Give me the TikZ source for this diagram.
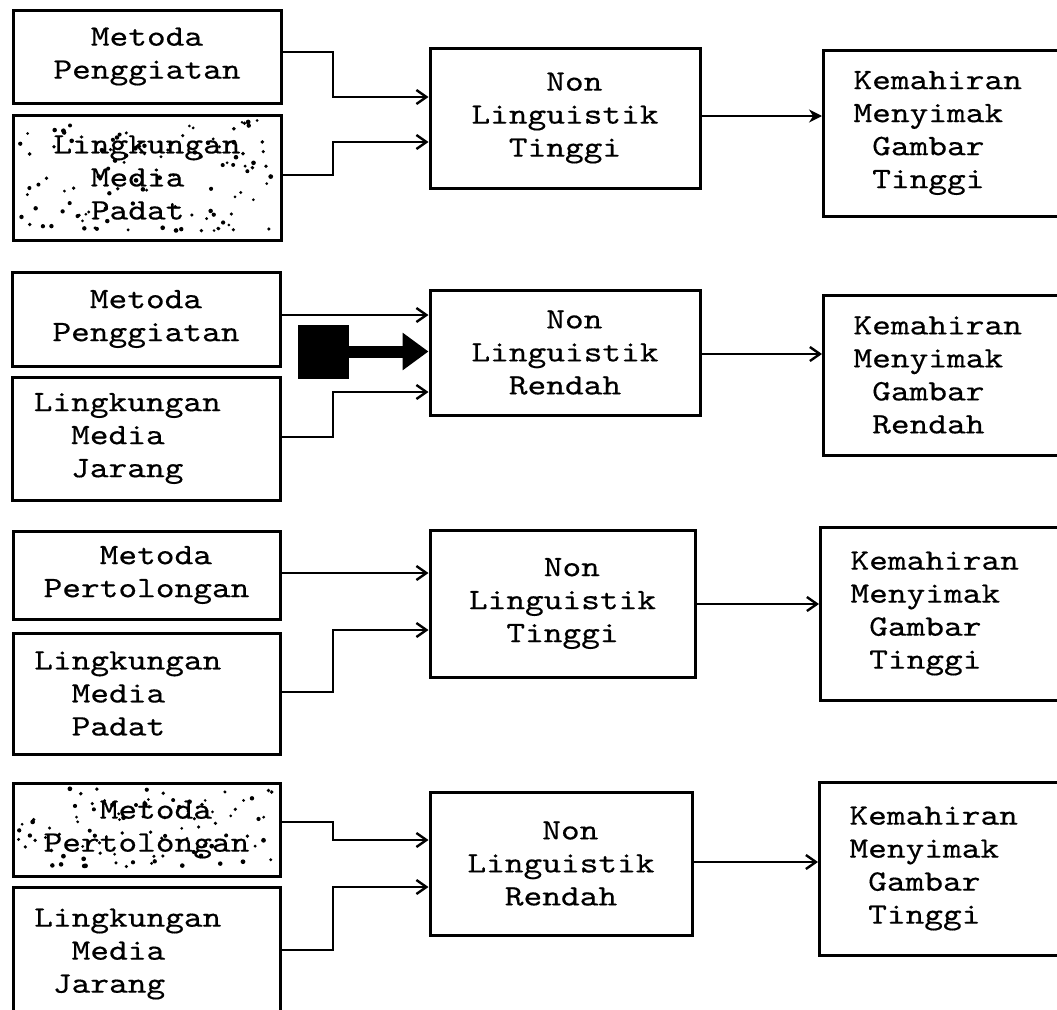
\documentclass[tikz,border=0pt]{standalone}
\usepackage{fontspec}
\newfontfamily\typer[FakeStretch=1.2,FakeBold=0.4]{lmmono10-regular.otf}
\usetikzlibrary{arrows.meta,backgrounds,calc}
% blank columns of typewriter width
\newcommand\tpad[1]{\leavevmode\hbox to #1\fontcharwd\font`x{}}

\begin{document}
\begin{tikzpicture}[x=1pt,y=-1pt]
\tikzset{
  box/.style={draw, line width=3pt, rectangle, inner sep=0pt, align=left,
              font=\typer\fontsize{29.7pt}{33pt}\selectfont},
  rbox/.style={box, anchor=west, text width=200pt, inner xsep=30pt},
  conn/.style={line width=2.4pt, -{Straight Barb[length=10pt,width=14pt]}},
  dot/.style={fill=black},
}
\path[use as bounding box] (0,0) rectangle (1057,1009);
\clip (0,0) rectangle (1057,1009);

% ---------- group 1 ----------
\node[box, minimum width=268pt, minimum height=93pt]  (A1) at (147,56.5)  {\tpad{2}Metoda\\Penggiatan};
\node[box, minimum width=268pt, minimum height=125pt] (B1) at (147,177.5) {Lingkungan\\\tpad{2}Media\\\tpad{2}Padat};
\node[box, minimum width=270pt, minimum height=140pt] (M1) at (565,118)   {\tpad{4}Non\\Linguistik\\\tpad{2}Tinggi};
\node[rbox, minimum height=166pt] (R1) at (822,133) {Kemahiran\\Menyimak\\\tpad{1}Gambar\\\tpad{1}Tinggi};

\draw[conn] (A1.east |- 0,52)  -| (333,97)  -- (M1.west |- 0,97);
\draw[conn] (B1.east |- 0,175) -| (333,142) -- (M1.west |- 0,142);
\draw[line width=2.4pt, -{Stealth[length=13pt,width=13pt]}] (M1.east |- 0,116) -- (R1.west |- 0,116);

% ---------- group 2 ----------
\node[box, minimum width=268pt, minimum height=94pt]  (A2) at (146,319)   {\tpad{2}Metoda\\Penggiatan};
\node[box, minimum width=268pt, minimum height=123pt] (B2) at (146,438.5) {Lingkungan\tpad{2}\\\tpad{2}Media\\\tpad{2}Jarang};
\node[box, minimum width=270pt, minimum height=125pt] (M2) at (565,352.5) {\tpad{4}Non\\Linguistik\\\tpad{2}Rendah};
\node[rbox, minimum height=160pt] (R2) at (822,375) {Kemahiran\\Menyimak\\\tpad{1}Gambar\\\tpad{1}Rendah};
\node[draw, fill=black, line width=1pt, minimum width=50pt, minimum height=53pt, inner sep=0pt] (blk) at (323,351.5) {};

\draw[conn] (A2.east |- 0,315) -- (M2.west |- 0,315);
\draw[line width=12pt, -{Triangle[length=26pt,width=36pt]}] (blk.east) -- (M2.west |- blk.east);
\draw[conn] (B2.east |- 0,437) -| (333,392) -- (M2.west |- 0,392);
\draw[conn] (M2.east |- 0,354) -- (R2.west |- 0,354);

% ---------- group 3 ----------
\node[box, minimum width=267pt, minimum height=88pt]  (A3) at (146.5,575)   {\tpad{3}Metoda\\Pertolongan};
\node[box, minimum width=267pt, minimum height=121pt] (B3) at (146.5,693.5) {Lingkungan\tpad{2}\\\tpad{2}Media\\\tpad{2}Padat};
\node[box, minimum width=265pt, minimum height=147pt] (M3) at (562.5,603.5) {\tpad{4}Non\\Linguistik\\\tpad{2}Tinggi};
\node[rbox, minimum height=173pt] (R3) at (819,613.5) {Kemahiran\\Menyimak\\\tpad{1}Gambar\\\tpad{1}Tinggi};

\draw[conn] (A3.east |- 0,573) -- (M3.west |- 0,573);
\draw[conn] (B3.east |- 0,692) -| (333,630) -- (M3.west |- 0,630);
\draw[conn] (M3.east |- 0,604) -- (R3.west |- 0,604);

% ---------- group 4 ----------
\node[box, minimum width=267pt, minimum height=93pt]  (A4) at (146.5,829.5) {\tpad{3}Metoda\\Pertolongan};
\node[box, minimum width=267pt, minimum height=134pt] (B4) at (146.5,954)   {Lingkungan\tpad{2}\\\tpad{2}Media\\\tpad{1}Jarang};
\node[box, minimum width=262pt, minimum height=143pt] (M4) at (561,863.5)   {\tpad{4}Non\\Linguistik\\\tpad{2}Rendah};
\node[rbox, minimum height=173pt] (R4) at (818,868.5) {Kemahiran\\Menyimak\\\tpad{1}Gambar\\\tpad{1}Tinggi};

\draw[conn] (A4.east |- 0,822) -| (333,840) -- (M4.west |- 0,840);
\draw[conn] (B4.east |- 0,950) -| (333,887) -- (M4.west |- 0,887);
\draw[conn] (M4.east |- 0,862) -- (R4.west |- 0,862);

% ---------- stippled shading ----------
\begin{scope}[on background layer]
  \pgfmathsetseed{12}
  \foreach \i in {1,...,110} {
    \pgfmathsetmacro\dx{6+256*rnd}
    \pgfmathsetmacro\dy{6+113*rnd}
    \pgfmathsetmacro\rr{1.4+1.0*rnd}
    \fill[dot] ($(B1.north west)+(\dx,\dy)$) circle[radius=\rr pt];
  }
  \foreach \i in {1,...,90} {
    \pgfmathsetmacro\dx{6+255*rnd}
    \pgfmathsetmacro\dy{6+81*rnd}
    \pgfmathsetmacro\rr{1.4+1.0*rnd}
    \fill[dot] ($(A4.north west)+(\dx,\dy)$) circle[radius=\rr pt];
  }
\end{scope}
\end{tikzpicture}
\end{document}
